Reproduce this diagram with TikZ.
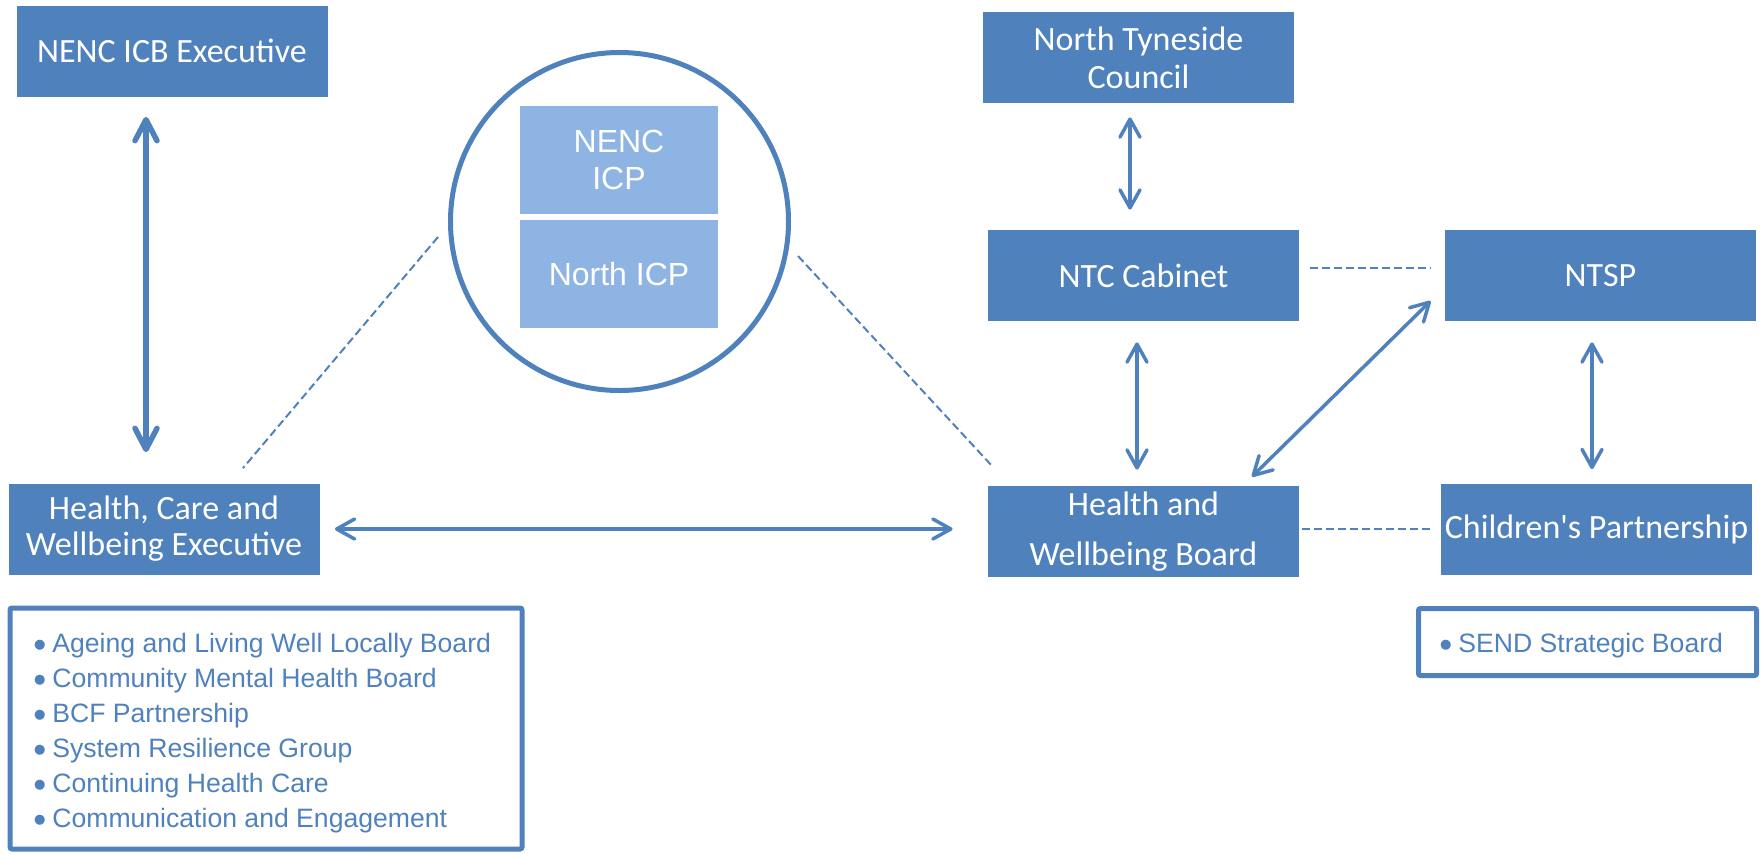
\documentclass[tikz,border=0pt]{standalone}
\usepackage{fontspec}
\usepackage{tikz}
\setmainfont{Carlito}
\newfontfamily\arialfont{Liberation Sans}
\usetikzlibrary{arrows.meta}
\definecolor{nhsblue}{HTML}{4F81BD}
\definecolor{icpblue}{HTML}{8EB4E3}
\newcommand{\itemdot}{{\fontsize{18.5pt}{18pt}\selectfont\raisebox{-2.5pt}{\textbullet}}\hspace{3pt}}
\tikzset{unitbox/.style = {fill=nhsblue, text=white, inner sep=0pt, align=center,
                           font=\fontsize{17pt}{18pt}\selectfont,
                           minimum width=155.5pt, minimum height=45.5pt}}
\tikzset{icpbox/.style = {fill=icpblue, text=white, inner sep=0pt, align=center,
                          font=\arialfont\fontsize{16pt}{18.5pt}\selectfont,
                          minimum width=99pt, minimum height=54pt}}
\tikzset{frame/.style = {draw=nhsblue, line width=2.5pt, rounded corners=1pt, inner sep=0pt}}
\tikzset{item/.style = {anchor=base west, inner sep=0pt, text=nhsblue,
                        font=\arialfont\fontsize{13.3pt}{15pt}\selectfont}}
\tikzset{twoway/.style = {draw=nhsblue, line width=1.75pt,
                          {Straight Barb[length=9pt,width=10pt,round]}-{Straight Barb[length=9pt,width=10pt,round]}}}
\tikzset{bigtwoway/.style = {draw=nhsblue, line width=2.75pt,
                             {Straight Barb[length=10.5pt,width=11pt,round]}-{Straight Barb[length=10.5pt,width=11pt,round]}}}
\tikzset{linkdash/.style = {draw=nhsblue, line width=1pt, dash pattern=on 4pt off 2pt}}

\begin{document}
\begin{tikzpicture}[x=0.5pt, y=-0.5pt]
    \useasboundingbox (0, 0) rectangle (1762, 853);
    % ICB side
    \node [unitbox] (icbexec) at (172, 51) {NENC ICB Executive};
    \node [unitbox] (hcwexec) at (164, 529) {Health, Care and\\Wellbeing Executive};
    \node [frame, minimum width=256pt, minimum height=120.5pt] (hcwgroups) at (266, 728.5) {};
    \node [item] (grp1) at (33, 652) {\itemdot Ageing and Living Well Locally Board};
    \node [item] (grp2) at (33, 687) {\itemdot Community Mental Health Board};
    \node [item] (grp3) at (33, 722) {\itemdot BCF Partnership};
    \node [item] (grp4) at (33, 757) {\itemdot System Resilience Group};
    \node [item] (grp5) at (33, 792) {\itemdot Continuing Health Care};
    \node [item] (grp6) at (33, 827) {\itemdot Communication and Engagement};
    % ICP ring
    \node [draw=nhsblue, line width=2.5pt, circle, minimum size=169pt, inner sep=0pt] (icpring) at (619.5, 221.5) {};
    \node [icpbox] (nencicp) at (619, 160) {NENC\\ICP};
    \node [icpbox] (northicp) at (619, 274) {North ICP};
    % council side
    \node [unitbox, font=\fontsize{17pt}{19pt}\selectfont] (ntcouncil) at (1138.5, 57.5) {North Tyneside\\Council};
    \node [unitbox] (ntccab) at (1143.5, 275.5) {NTC Cabinet};
    \node [unitbox] (ntsp) at (1600.5, 275.5) {NTSP};
    \node [unitbox, font=\fontsize{17pt}{25pt}\selectfont] (hwb) at (1143.5, 531.5) {Health and\\Wellbeing Board};
    \node [unitbox] (cp) at (1596.5, 529) {Children\textquotesingle s Partnership};
    \node [frame, minimum width=169pt, minimum height=33.5pt] (cpgroups) at (1587.5, 642) {};
    \node [item] (grp7) at (1439, 652) {\itemdot SEND Strategic Board};

    \draw [bigtwoway] ([xshift=-13pt, yshift=-10pt]icbexec.south) -- ([xshift=-9pt, yshift=15.5pt]hcwexec.north);
    \draw [twoway] ([xshift=7.5pt]hcwexec.east) -- ([xshift=-17.5pt]hcwexec.east -| hwb.west);
    \draw [twoway] ([xshift=-4.25pt, yshift=-7pt]ntcouncil.south) -- ([xshift=-6.75pt, yshift=10pt]ntccab.north);
    \draw [twoway] ([xshift=-3.25pt, yshift=-10.5pt]ntccab.south) -- ([xshift=-3.25pt, yshift=8pt]hwb.north);
    \draw [twoway] ([xshift=-4.25pt, yshift=-10.5pt]ntsp.south) -- ([xshift=-2.25pt, yshift=7pt]cp.north);
    \draw [twoway] ([xshift=54.25pt, yshift=4.5pt]hwb.north) -- ([xshift=-7pt, yshift=-12.75pt]ntsp.west);

    \draw [linkdash] ([xshift=5.5pt, yshift=3.75pt]ntccab.east) -- ([xshift=-7pt, yshift=3.75pt]ntsp.west);
    \draw [linkdash] ([xshift=1.5pt, yshift=1.25pt]hwb.east) -- ([xshift=-4.5pt]cp.west);
    \draw [linkdash] ([xshift=-5pt, yshift=-7.75pt]icpring.west) -- ([xshift=39.5pt, yshift=7.5pt]hcwexec.north);
    \draw [linkdash] ([xshift=3.5pt, yshift=-17.25pt]icpring.east) -- ([xshift=2.5pt, yshift=9.5pt]hwb.north west);
\end{tikzpicture}
\end{document}
